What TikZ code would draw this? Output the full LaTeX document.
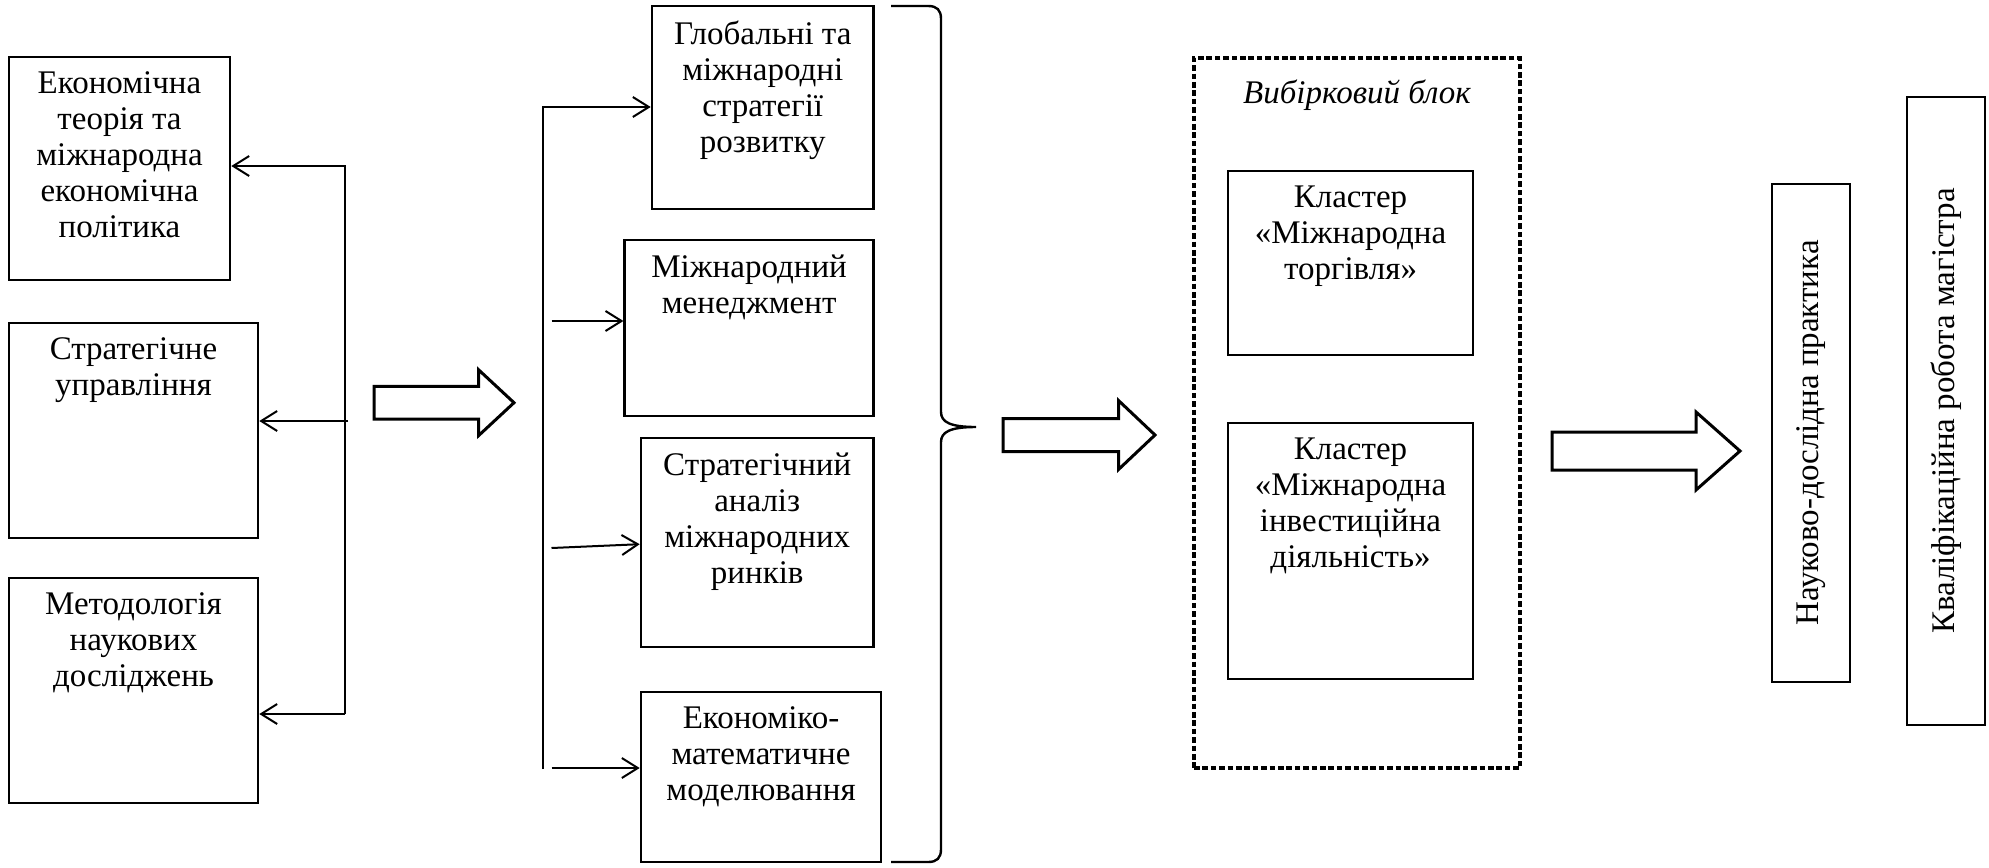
\documentclass[tikz,border=0pt]{standalone}
\usepackage{fontspec}
\setmainfont{Liberation Serif}
\usetikzlibrary{fit,arrows.meta}

\begin{document}
\begin{tikzpicture}[x=0.5pt,y=-0.5pt,
  box/.style={draw,line width=1.3pt,inner sep=0pt},
  txt/.style={align=center,anchor=north,yshift=-8pt,inner sep=0pt,font=\fontsize{16.5}{18}\selectfont},
  vtxt/.style={rotate=90,inner sep=0pt,font=\fontsize{16.5}{18}\selectfont},
  arr/.style={line width=1pt,-{Straight Barb[length=8pt,width=10pt]}},
  fat/.style={line width=1.5pt,line join=miter}]
\def\lbus{345}
\def\mbus{542.5}
\def\fatarrow#1#2#3#4#5#6{% x0, head base, tip, middle, half shaft, half head
  \draw[fat] (#1,#4-#5) -- (#2,#4-#5) -- (#2,#4-#6) -- (#3,#4) -- (#2,#4+#6) -- (#2,#4+#5) -- (#1,#4+#5) -- cycle;}
\useasboundingbox (0,0) rectangle (1989,867);
  %\draw[help lines,step=100] (0,0) grid (1989,867);

% first column
\node[box,fit={(9,57) (230,280)},label={[txt]north:Економічна\\теорія та\\міжнародна\\економічна\\політика}] (ekon) {};
\node[box,fit={(9,323) (258,538)},label={[txt]north:Стратегічне\\управління}] (strat) {};
\node[box,fit={(9,578) (258,803)},label={[txt]north:Методологія\\наукових\\досліджень}] (metod) {};

\coordinate (l1) at (\lbus,166);
\coordinate (l2) at (\lbus+3,421);
\coordinate (l3) at (\lbus,714);
\draw[arr] (l3) -- (l1) -- (ekon.east |- l1);
\draw[arr] (l2) -- (strat.east |- l2);
\draw[arr] (l3) -- (metod.east |- l3);

\fatarrow{374}{478.5}{514}{402.7}{16.3}{33}

% second column
\node[box,fit={(652,6) (873.5,209)},label={[txt]north:Глобальні та\\міжнародні\\стратегії\\розвитку}] (glob) {};
\node[box,fit={(624.7,240) (873.5,416)},label={[txt]north:Міжнародний\\менеджмент}] (mened) {};
\node[box,fit={(641,438) (873.5,647)},label={[txt]north:Стратегічний\\аналіз\\міжнародних\\ринків}] (analiz) {};
\node[box,fit={(641,692) (881,862)},label={[txt]north:Економіко-\\математичне\\моделювання}] (model) {};

\coordinate (m1) at (\mbus,107);
\coordinate (m2) at (\mbus+9,321);
\coordinate (m3) at (\mbus+9,548);
\coordinate (m4) at (\mbus,769);
\coordinate (m5) at (\mbus+9,768);
\draw[arr] (m4) -- (m1) -- (glob.west |- m1);
\draw[arr] (m2) -- (mened.west |- m2);
\draw[arr] (m3) -- ([yshift=1.9pt]analiz.west |- m3);
\draw[arr] (m5) -- (model.west |- m5);

% brace
\draw[line width=1.2pt] (891,6) -- (928,6) .. controls (937,6) and (941,10) .. (941,19)
  -- (941,412) .. controls (941,422) and (950,427) .. (976,427)
  .. controls (950,427) and (941,432) .. (941,442)
  -- (941,849) .. controls (941,858) and (937,862) .. (928,862) -- (891,862);

\fatarrow{1003}{1118.5}{1155}{435}{16.5}{34.5}

% elective block
\node[box,line width=1.7pt,dash pattern=on 2.8pt off 1.4pt,fit={(1194,58) (1520,768)},
  label={[anchor=north,yshift=-11.5pt,inner sep=0pt,font=\fontsize{16.5}{18}\selectfont\itshape]north:Вибірковий блок}] (vybir) {};
\node[box,fit={(1228,171) (1473,355)},label={[txt]north:Кластер\\«Міжнародна\\торгівля»}] (torg) {};
\node[box,fit={(1228,423) (1473,679)},label={[txt]north:Кластер\\«Міжнародна\\інвестиційна\\діяльність»}] (invest) {};

\fatarrow{1552}{1696}{1740}{451}{19}{39}

\node[box,fit={(1772,184) (1850,682)},label={[vtxt]center:Науково-дослідна практика}] (prakt) {};
\node[box,fit={(1907,97) (1985,725)},label={[vtxt]center:Кваліфікаційна робота магістра}] (magistr) {};
\end{tikzpicture}
\end{document}
